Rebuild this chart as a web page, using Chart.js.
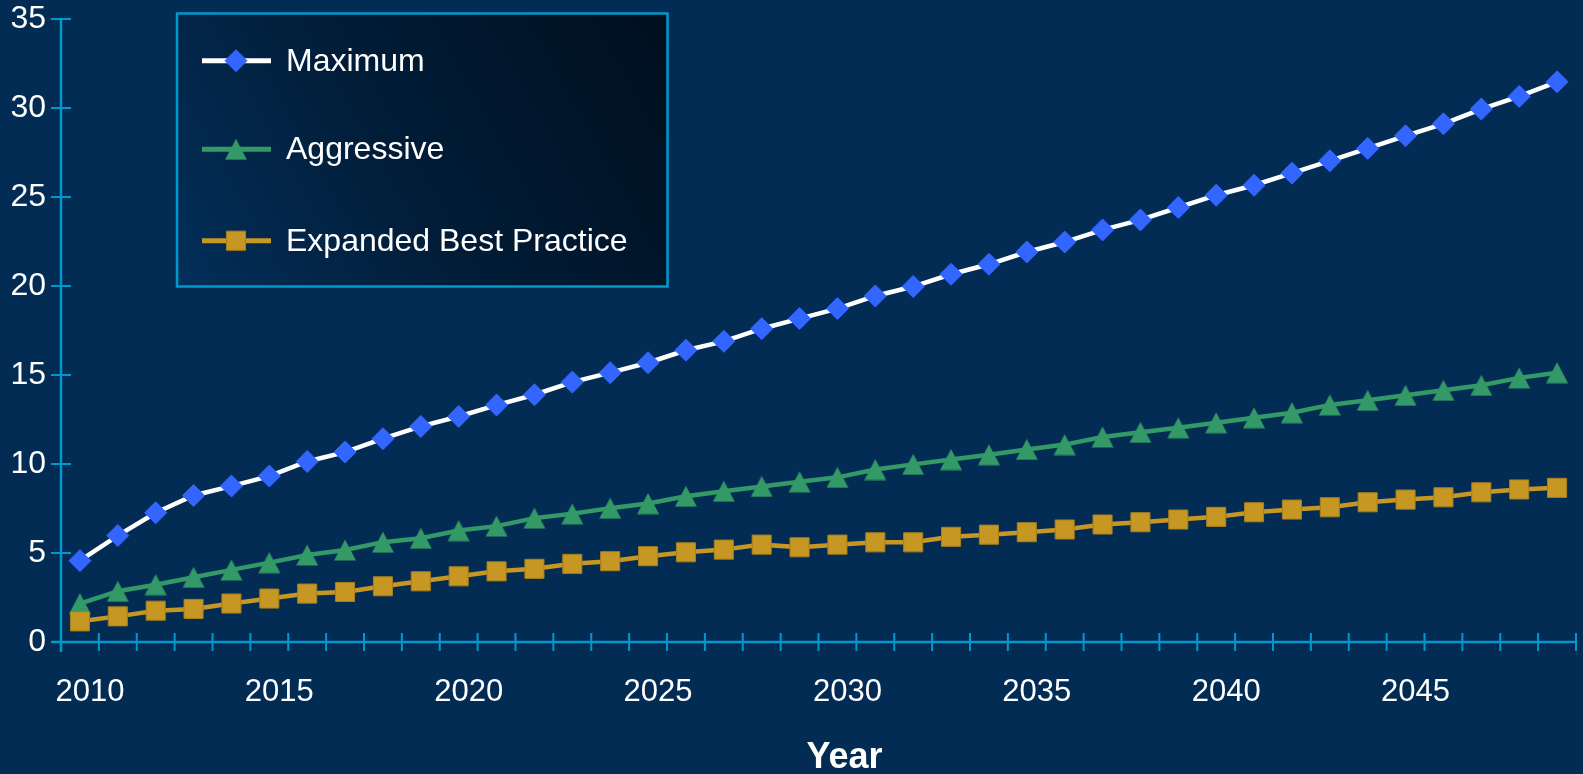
<!DOCTYPE html>
<html>
<head>
<meta charset="utf-8">
<title>Scenarios by year</title>
<script src="https://cdn.jsdelivr.net/npm/chart.js@4.4.1/dist/chart.umd.min.js"></script>
<style>
  html, body { margin: 0; padding: 0; background: #022c54; }
  #wrap { width: 1583px; height: 774px; }
</style>
</head>
<body>
<div id="wrap"><canvas id="chart" width="1583" height="774"></canvas></div>
<script>
// Years along the bottom axis
const years = [
  '2010', '2011', '2012', '2013', '2014', '2015', '2016', '2017', '2018', '2019',
  '2020', '2021', '2022', '2023', '2024', '2025', '2026', '2027', '2028', '2029',
  '2030', '2031', '2032', '2033', '2034', '2035', '2036', '2037', '2038', '2039',
  '2040', '2041', '2042', '2043', '2044', '2045', '2046', '2047', '2048', '2049'
];

const maximum = [
  4.57, 5.98, 7.26, 8.23, 8.76, 9.32, 10.14, 10.67, 11.42, 12.11,
  12.67, 13.31, 13.89, 14.60, 15.13, 15.69, 16.39, 16.89, 17.60, 18.17,
  18.73, 19.44, 19.97, 20.66, 21.22, 21.91, 22.47, 23.15, 23.71, 24.41,
  25.10, 25.66, 26.34, 27.03, 27.73, 28.44, 29.11, 29.94, 30.65, 31.47
];

const aggressive = [
  2.16, 2.85, 3.22, 3.64, 4.05, 4.46, 4.89, 5.17, 5.61, 5.83,
  6.26, 6.51, 6.96, 7.20, 7.52, 7.78, 8.19, 8.47, 8.74, 9.00,
  9.25, 9.69, 9.98, 10.25, 10.52, 10.82, 11.09, 11.52, 11.78, 12.04,
  12.32, 12.60, 12.88, 13.32, 13.58, 13.86, 14.14, 14.42, 14.84, 15.13
];

const expandedBestPractice = [
  1.16, 1.44, 1.76, 1.86, 2.16, 2.44, 2.72, 2.81, 3.13, 3.41,
  3.69, 3.97, 4.11, 4.39, 4.54, 4.82, 5.04, 5.19, 5.47, 5.32,
  5.47, 5.60, 5.60, 5.91, 6.03, 6.17, 6.32, 6.60, 6.73, 6.88,
  7.03, 7.29, 7.44, 7.57, 7.85, 8.00, 8.13, 8.41, 8.57, 8.66
];

const seriesNames = ['Maximum', 'Aggressive', 'Expanded Best Practice'];
const yTickValues = [0, 5, 10, 15, 20, 25, 30, 35];
const xTitle = 'Year';

const AXIS_COLOR = '#0099cc';
const TEXT_COLOR = '#ffffff';
const FONT = 'Liberation Sans, Arial, sans-serif';

// upright triangle centred on its bounding box
function triangleMarker(color) {
  const c = document.createElement('canvas');
  c.width = 24;
  c.height = 22;
  const g = c.getContext('2d');
  g.fillStyle = color;
  g.beginPath();
  g.moveTo(12, 0.5);
  g.lineTo(23, 21.5);
  g.lineTo(1, 21.5);
  g.closePath();
  g.fill();
  return c;
}

// keep the plot area fixed instead of growing it around edge labels
function noEdgePadding(scale) {
  scale.paddingTop = 0;
  scale.paddingBottom = 0;
  scale.paddingLeft = 0;
  scale.paddingRight = 0;
}

// axis lines with ticks that cross the line on both sides
const crossAxes = {
  id: 'crossAxes',
  beforeDatasetsDraw(chart) {
    const { ctx } = chart;
    const xs = chart.scales.x;
    const ys = chart.scales.y;
    const x0 = xs.left;
    const y0 = ys.getPixelForValue(yTickValues[0]);
    const yTop = ys.getPixelForValue(yTickValues[yTickValues.length - 1]);

    ctx.save();
    ctx.strokeStyle = AXIS_COLOR;
    ctx.lineWidth = 2.5;
    ctx.beginPath();
    ctx.moveTo(x0, yTop);
    ctx.lineTo(x0, y0 + 10);
    ctx.moveTo(x0 - 10, y0);
    ctx.lineTo(xs.right, y0);
    ctx.stroke();

    ctx.lineWidth = 2;
    ctx.beginPath();
    ys.ticks.forEach(t => {
      const py = ys.getPixelForValue(t.value);
      ctx.moveTo(x0 - 10, py);
      ctx.lineTo(x0 + 10, py);
    });
    for (let i = 0; i <= years.length; i++) {
      const px = xs.getPixelForValue(i - 0.5);
      ctx.moveTo(px, y0 - 9);
      ctx.lineTo(px, y0 + 9);
    }
    ctx.stroke();
    ctx.restore();
  }
};

// boxed legend (line sample + marker) and the bottom axis title
const boxLegend = {
  id: 'boxLegend',
  afterDraw(chart) {
    const { ctx } = chart;
    const box = { left: 177, top: 13.5, right: 667.5, bottom: 286.5 };
    const rows = [60.7, 149.3, 240.7];

    ctx.save();
    const grad = ctx.createLinearGradient(box.left, box.bottom, box.right, box.top);
    grad.addColorStop(0, '#032f5a');
    grad.addColorStop(0.45, '#011d38');
    grad.addColorStop(1, '#000f1f');
    ctx.fillStyle = grad;
    ctx.fillRect(box.left, box.top, box.right - box.left, box.bottom - box.top);
    ctx.strokeStyle = AXIS_COLOR;
    ctx.lineWidth = 2.5;
    ctx.strokeRect(box.left, box.top, box.right - box.left, box.bottom - box.top);

    chart.data.datasets.forEach((ds, i) => {
      const y = rows[i];
      ctx.strokeStyle = ds.borderColor;
      ctx.lineWidth = 5;
      ctx.beginPath();
      ctx.moveTo(202, y);
      ctx.lineTo(271, y);
      ctx.stroke();

      ctx.fillStyle = ds.pointBackgroundColor;
      ctx.strokeStyle = ds.pointBorderColor;
      ctx.lineWidth = ds.pointBorderWidth;
      Chart.helpers.drawPoint(ctx, {
        pointStyle: ds.pointStyle,
        radius: ds.pointRadius,
        borderWidth: ds.pointBorderWidth,
        rotation: 0
      }, 236, y);

      ctx.fillStyle = TEXT_COLOR;
      ctx.font = '32px ' + FONT;
      ctx.textAlign = 'left';
      ctx.textBaseline = 'alphabetic';
      ctx.fillText(ds.label, 286, y + 10);
    });

    const xs = chart.scales.x;
    ctx.fillStyle = TEXT_COLOR;
    ctx.font = 'bold 36px ' + FONT;
    ctx.textAlign = 'center';
    ctx.textBaseline = 'alphabetic';
    ctx.fillText(xTitle, (xs.left + xs.right) / 2 + 26, 768);
    ctx.restore();
  }
};

new Chart(document.getElementById('chart'), {
  type: 'line',
  data: {
    labels: years,
    datasets: [
      {
        label: seriesNames[0],
        data: maximum,
        order: 2,
        borderColor: '#ffffff',
        borderWidth: 4.5,
        pointStyle: 'rectRot',
        pointRadius: 11,
        pointBackgroundColor: '#3366ff',
        pointBorderColor: '#3366ff',
        pointBorderWidth: 1
      },
      {
        label: seriesNames[1],
        data: aggressive,
        order: 1,
        borderColor: '#339966',
        borderWidth: 4.5,
        pointStyle: triangleMarker('#339966'),
        pointRadius: 11,
        pointBackgroundColor: '#339966',
        pointBorderColor: '#339966',
        pointBorderWidth: 0
      },
      {
        label: seriesNames[2],
        data: expandedBestPractice,
        order: 0,
        borderColor: '#c69723',
        borderWidth: 4.5,
        pointStyle: 'rect',
        pointRadius: 13.5,
        pointBackgroundColor: '#c69723',
        pointBorderColor: '#a87f1c',
        pointBorderWidth: 1
      }
    ]
  },
  options: {
    responsive: false,
    animation: false,
    events: [],
    layout: { autoPadding: false, padding: { top: 19, right: 7, left: 0, bottom: 0 } },
    plugins: {
      legend: { display: false },
      tooltip: { enabled: false }
    },
    scales: {
      x: {
        type: 'category',
        offset: true,
        grid: { display: false, drawTicks: false },
        border: { display: false },
        ticks: {
          color: TEXT_COLOR,
          font: { family: FONT, size: 31 },
          autoSkip: false,
          maxRotation: 0,
          padding: 32,
          labelOffset: 10,
          callback: (value, index) => (Number(years[index]) % 5 === 0 ? years[index] : '')
        },
        afterFit: scale => {
          scale.height = 132;
          noEdgePadding(scale);
        }
      },
      y: {
        min: yTickValues[0],
        max: yTickValues[yTickValues.length - 1],
        grid: { display: false, drawTicks: false },
        border: { display: false },
        ticks: {
          stepSize: 5,
          color: TEXT_COLOR,
          font: { family: FONT, size: 32 },
          padding: 15
        },
        afterFit: scale => {
          scale.width = 61;
          noEdgePadding(scale);
        }
      }
    }
  },
  plugins: [crossAxes, boxLegend]
});
</script>
</body>
</html>
